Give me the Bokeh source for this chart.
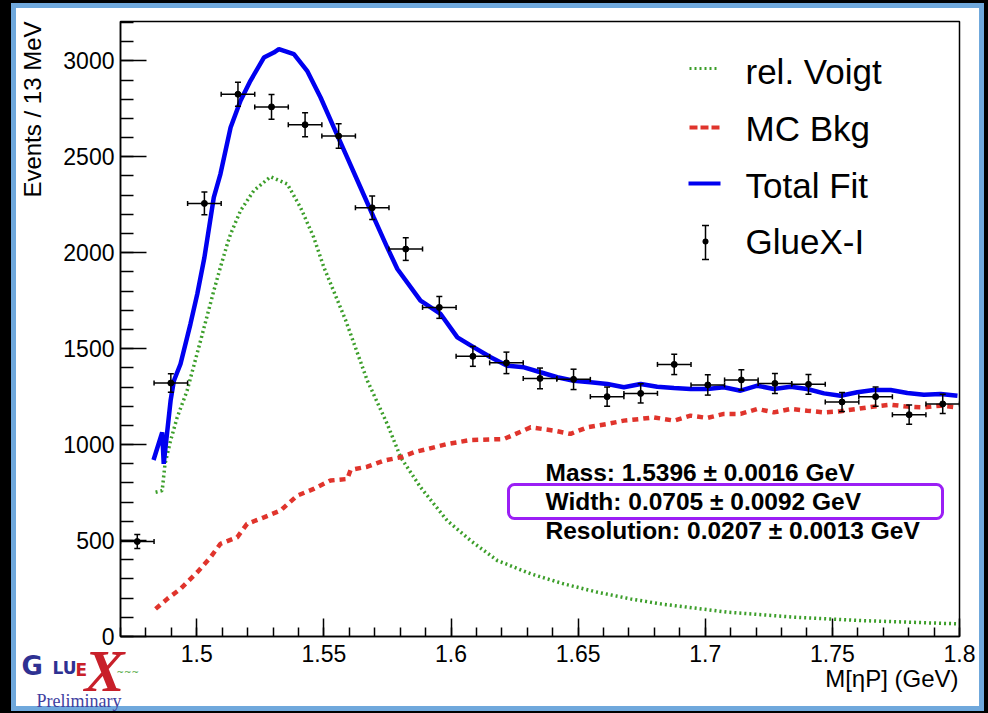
import numpy as np
from bokeh.plotting import figure
from bokeh.models import (ColumnDataSource, Whisker, TeeHead, Label, Arrow, BoxAnnotation,
                          FixedTicker, CustomJSTickFormatter, Range1d, Title)
from bokeh.embed import file_html
from bokeh.resources import INLINE

# ---------------- data ----------------
bin_centers = [1.4766, 1.4898, 1.5030, 1.5162, 1.5294, 1.5426, 1.5558, 1.5690, 1.5822,
               1.5954, 1.6086, 1.6218, 1.6350, 1.6482, 1.6614, 1.6746, 1.6878, 1.7010,
               1.7142, 1.7274, 1.7406, 1.7538, 1.7670, 1.7802, 1.7934]
counts = [495, 1321, 2257, 2826, 2760, 2667, 2608, 2234, 2019, 1715, 1460, 1426, 1345,
          1340, 1250, 1267, 1418, 1311, 1337, 1319, 1314, 1222, 1250, 1156, 1212]
count_err = [36, 48, 59, 63, 64, 63, 64, 61, 59, 57, 52, 56, 54, 53, 50, 50, 53, 53,
             53, 52, 52, 50, 50, 50, 50]
bin_half_width = 0.0066

fit_mass = [1.4830, 1.4864, 1.4870, 1.4897, 1.4910, 1.4936, 1.4975, 1.5002, 1.5030,
            1.5067, 1.5093, 1.5133, 1.5172, 1.5211, 1.5264, 1.5303, 1.5323, 1.5382,
            1.5434, 1.5487, 1.5539, 1.5592, 1.5644, 1.5696, 1.5749, 1.5789, 1.5880,
            1.5959, 1.6025, 1.6090, 1.6156, 1.6221, 1.6287, 1.6352, 1.6418, 1.6483,
            1.6549, 1.6615, 1.6680, 1.6746, 1.6811, 1.6877, 1.6942, 1.7008, 1.7073,
            1.7139, 1.7205, 1.7270, 1.7336, 1.7401, 1.7467, 1.7532, 1.7598, 1.7663,
            1.7729, 1.7795, 1.7860, 1.7926, 1.7992]
fit_total = [920, 1064, 900, 1229, 1333, 1420, 1628, 1785, 1975,
             2288, 2410, 2653, 2792, 2896, 3017, 3043, 3061, 3035,
             2948, 2809, 2653, 2496, 2340, 2184, 2028, 1915, 1750,
             1681, 1559, 1507, 1455, 1411, 1403, 1377, 1351, 1333,
             1325, 1316, 1299, 1316, 1302, 1295, 1290, 1290, 1299,
             1281, 1307, 1290, 1302, 1290, 1267, 1255, 1273, 1285,
             1285, 1269, 1260, 1264, 1255]

voigt_mass = [1.4838, 1.4864, 1.4875, 1.4897, 1.4923, 1.4962, 1.5015, 1.5067, 1.5093,
              1.5120, 1.5133, 1.5172, 1.5224, 1.5290, 1.5356, 1.5408, 1.5460, 1.5500,
              1.5585, 1.5671, 1.5749, 1.5802, 1.5880, 1.5985, 1.6077, 1.6182, 1.6313,
              1.6444, 1.6575, 1.6706, 1.6824, 1.7087, 1.7349, 1.7611, 1.7992]
voigt_vals = [752, 760, 899, 1021, 1142, 1281, 1542, 1802, 1924,
              2045, 2097, 2219, 2323, 2396, 2358, 2236, 2080, 1924,
              1650, 1333, 1108, 934, 778, 604, 500, 396, 327,
              274, 231, 196, 170, 127, 101, 83, 66]

bkg_mass = [1.4838, 1.4884, 1.4936, 1.5002, 1.5054, 1.5093, 1.5159, 1.5198, 1.5264,
            1.5329, 1.5395, 1.5460, 1.5526, 1.5592, 1.5605, 1.5671, 1.5736, 1.5802,
            1.5854, 1.5907, 1.5985, 1.6077, 1.6208, 1.6313, 1.6405, 1.6470, 1.6536,
            1.6615, 1.6680, 1.6746, 1.6798, 1.6877, 1.6942, 1.7008, 1.7073, 1.7139,
            1.7205, 1.7270, 1.7336, 1.7401, 1.7467, 1.7532, 1.7598, 1.7663, 1.7729,
            1.7795, 1.7860, 1.7926, 1.7992]
bkg_vals = [144, 196, 248, 335, 413, 483, 517, 587, 621,
            656, 734, 769, 813, 821, 868, 885, 917, 934,
            960, 977, 1003, 1024, 1029, 1090, 1073, 1056, 1090,
            1108, 1125, 1134, 1142, 1125, 1151, 1139, 1160, 1160,
            1186, 1168, 1186, 1177, 1168, 1174, 1186, 1198, 1208,
            1198, 1194, 1203, 1194]

x_ticks = [1.5, 1.55, 1.6, 1.65, 1.7, 1.75, 1.8]
y_ticks = [0, 500, 1000, 1500, 2000, 2500, 3000]
legend_labels = ["rel. Voigt", "MC Bkg", "Total Fit", "GlueX-I"]
fit_results = ["Mass: 1.5396 \u00b1 0.0016 GeV",
               "Width: 0.0705 \u00b1 0.0092 GeV",
               "Resolution: 0.0207 \u00b1 0.0013 GeV"]
x_label = "M[\u03b7P] (GeV)"
y_label = "Events / 13 MeV"

# ---------------- styling ----------------
GREEN = "#3c9e2a"
RED = "#e0342c"
BLUE = "#0000f0"
PURPLE = "#9b1ff5"
LOGO_BLUE = "#2e3192"
LOGO_RED = "#c8202a"
FONT = "Liberation Sans"

W, H = 988, 713
FL, FR, FT, FB = 120, 959, 21, 636   # frame edges in page pixels


def sx(X):
    return X - FL


def sy(Y):
    return FB - Y


def base(Y, fs):
    # labels are placed by the bottom of their line box; shift to the wanted baseline
    return sy(Y - 0.33 * fs)


p = figure(width=W, height=H, output_backend="svg", toolbar_location=None,
           x_range=Range1d(1.47, 1.80), y_range=Range1d(0, 3205),
           min_border_left=FL, min_border_right=W - FR,
           min_border_top=FT, min_border_bottom=H - FB)
p.border_fill_color = None
p.background_fill_color = "white"
p.outline_line_color = "black"
p.outline_line_width = 1.5
p.grid.visible = False
# page frame: black margin and light-blue border, painted by CSS behind the canvas
p.styles = {
    "background-color": "white",
    "box-shadow": ("inset 11px 3px 0 0 #000000, inset -4px -2px 0 0 #000000, "
                   "inset 16px 8px 0 0 #6fa8dc, inset -9px -7px 0 0 #6fa8dc"),
}

# axes
for ax in (p.xaxis[0], p.yaxis[0]):
    ax.axis_line_width = 1.5
    ax.major_tick_line_width = 1.5
    ax.minor_tick_line_width = 1.5
    ax.major_tick_out = 0
    ax.minor_tick_out = 0
    ax.major_label_text_font = FONT
    ax.major_label_text_font_size = "23px"
    ax.major_label_text_color = "black"
p.xaxis.major_tick_in = 18
p.xaxis.minor_tick_in = 9
p.yaxis.major_tick_in = 26
p.yaxis.minor_tick_in = 13
p.xaxis.major_label_standoff = 8
p.yaxis.major_label_standoff = 6
p.xaxis.ticker = FixedTicker(ticks=x_ticks,
                             minor_ticks=[round(v, 3) for v in np.arange(1.47, 1.8001, 0.01)])
p.yaxis.ticker = FixedTicker(ticks=y_ticks, minor_ticks=list(range(0, 3201, 100)))
p.xaxis.formatter = CustomJSTickFormatter(code="return String(Math.round(tick*100)/100);")

# y-axis title (left panel, aligned to the top)
p.add_layout(Title(text=y_label, align="right", text_font=FONT, text_font_size="24px",
                   text_font_style="normal", text_color="black", standoff=29), "left")

# below panel: a chain of titles. A title's panel is 2 + H + standoff tall and its text
# bottom sits standoff/2 above the panel's lower edge; blank titles act as spacers.
AXIS_END = FB + 28.0
FONT_H = {"Liberation Sans": 1.117, "DejaVu Sans": 1.164, "Liberation Serif": 1.107}
FONT_D = {"Liberation Sans": 0.212, "DejaVu Sans": 0.236, "Liberation Serif": 0.216}
DELTA = 1.5
below_items = [
    # text, font, size, style, color, align, offset, wanted baseline
    ("G", "DejaVu Sans", 26, "bold", LOGO_BLUE, "left", 21 - FL, 673),
    ("LU", "DejaVu Sans", 17, "bold", LOGO_BLUE, "left", 52 - FL, 673),
    ("E", "DejaVu Sans", 17, "bold", LOGO_RED, "left", 75 - FL, 673),
    ("X", "Liberation Serif", 60, "bold italic", LOGO_RED, "left", 84 - FL, 689),
    ("~~~", "DejaVu Sans", 9, "normal", GREEN, "left", 116 - FL, 670),
    (x_label, FONT, 24, "normal", "black", "right", 1, 686),
    ("Preliminary", "Liberation Serif", 18, "normal", "#3f3f9f", "left", 36 - FL, 705),
]
P = AXIS_END
SP_FS = 4
for txt, font, fs, style, col, align, off, bl in below_items:
    h = FONT_H[font] * fs
    bottom = bl + FONT_D[font] * fs
    mid = bottom - (2 + h) / 2
    gap = (mid - DELTA / 2) - P
    if gap > 3:
        sp_h = FONT_H[FONT] * SP_FS
        p.add_layout(Title(text=" ", text_font=FONT, text_font_size=f"{SP_FS}px",
                           standoff=gap - 2 - sp_h), "below")
        P += gap
    s = 2 * (bottom - P - 2 - h)
    s = max(s, DELTA - 2 - h)
    P += 2 + h + s
    p.add_layout(Title(text=txt, align=align, offset=off, standoff=s,
                       text_font=font, text_font_size=f"{fs}px", text_font_style=style,
                       text_color=col), "below")

# curves
p.line(voigt_mass, voigt_vals, line_color=GREEN, line_width=3.5, line_dash="2 3")
p.line(bkg_mass, bkg_vals, line_color=RED, line_width=4.5, line_dash="6 5")
p.line(fit_mass, fit_total, line_color=BLUE, line_width=4.5)

# data points with error bars
src = ColumnDataSource(dict(
    x=bin_centers, y=counts,
    lo=[c - e for c, e in zip(counts, count_err)],
    hi=[c + e for c, e in zip(counts, count_err)],
    xl=[b - bin_half_width for b in bin_centers],
    xr=[b + bin_half_width for b in bin_centers],
))
p.add_layout(Whisker(base="x", lower="lo", upper="hi", dimension="height", source=src,
                     line_color="black", line_width=1.5, level="annotation",
                     upper_head=TeeHead(size=6, line_width=1.5, line_color="black"),
                     lower_head=TeeHead(size=6, line_width=1.5, line_color="black")))
p.add_layout(Whisker(base="y", lower="xl", upper="xr", dimension="width", source=src,
                     line_color="black", line_width=1.5, level="annotation",
                     upper_head=TeeHead(size=5, line_width=1.5, line_color="black"),
                     lower_head=TeeHead(size=5, line_width=1.5, line_color="black")))
p.scatter("x", "y", source=src, size=6, color="black")

# legend (drawn as annotations)
leg_base = [83, 140, 197, 253]
for txt, yb in zip(legend_labels, leg_base):
    p.add_layout(Label(x=sx(745), y=base(yb, 35), x_units="screen", y_units="screen",
                       text=txt, text_font=FONT, text_font_size="35px", text_color="black",
                       text_baseline="alphabetic"))
p.add_layout(Arrow(end=None, x_start=sx(689), y_start=sy(68), x_end=sx(719), y_end=sy(68),
                   start_units="screen", end_units="screen",
                   line_color=GREEN, line_width=3, line_dash="2 3"))
p.add_layout(Arrow(end=None, x_start=sx(689), y_start=sy(127), x_end=sx(720), y_end=sy(127),
                   start_units="screen", end_units="screen",
                   line_color=RED, line_width=4, line_dash="8 3"))
p.add_layout(Arrow(end=None, x_start=sx(688), y_start=sy(183), x_end=sx(720), y_end=sy(183),
                   start_units="screen", end_units="screen",
                   line_color=BLUE, line_width=4))
p.add_layout(Arrow(start=TeeHead(size=7, line_width=1.5, line_color="black"),
                   end=TeeHead(size=7, line_width=1.5, line_color="black"),
                   x_start=sx(705), y_start=sy(225), x_end=sx(705), y_end=sy(259),
                   start_units="screen", end_units="screen",
                   line_color="black", line_width=1.5))
p.add_layout(BoxAnnotation(left=sx(702), right=sx(708), top=sy(238), bottom=sy(244),
                           left_units="screen", right_units="screen",
                           top_units="screen", bottom_units="screen",
                           fill_color="black", fill_alpha=1.0, line_alpha=0,
                           border_radius=3, level="annotation"))

# fit results
for txt, yb in zip(fit_results, [480, 509, 538]):
    p.add_layout(Label(x=sx(545), y=base(yb, 24.5), x_units="screen", y_units="screen",
                       text=txt, text_font=FONT, text_font_size="24.5px",
                       text_font_style="bold", text_color="black",
                       text_baseline="alphabetic"))
p.add_layout(BoxAnnotation(left=sx(508), right=sx(942), top=sy(484), bottom=sy(518),
                           left_units="screen", right_units="screen",
                           top_units="screen", bottom_units="screen",
                           fill_alpha=0, line_color=PURPLE, line_alpha=1.0, line_width=3,
                           border_radius=6, level="annotation"))

open("out.html", "w").write(file_html(p, INLINE))
